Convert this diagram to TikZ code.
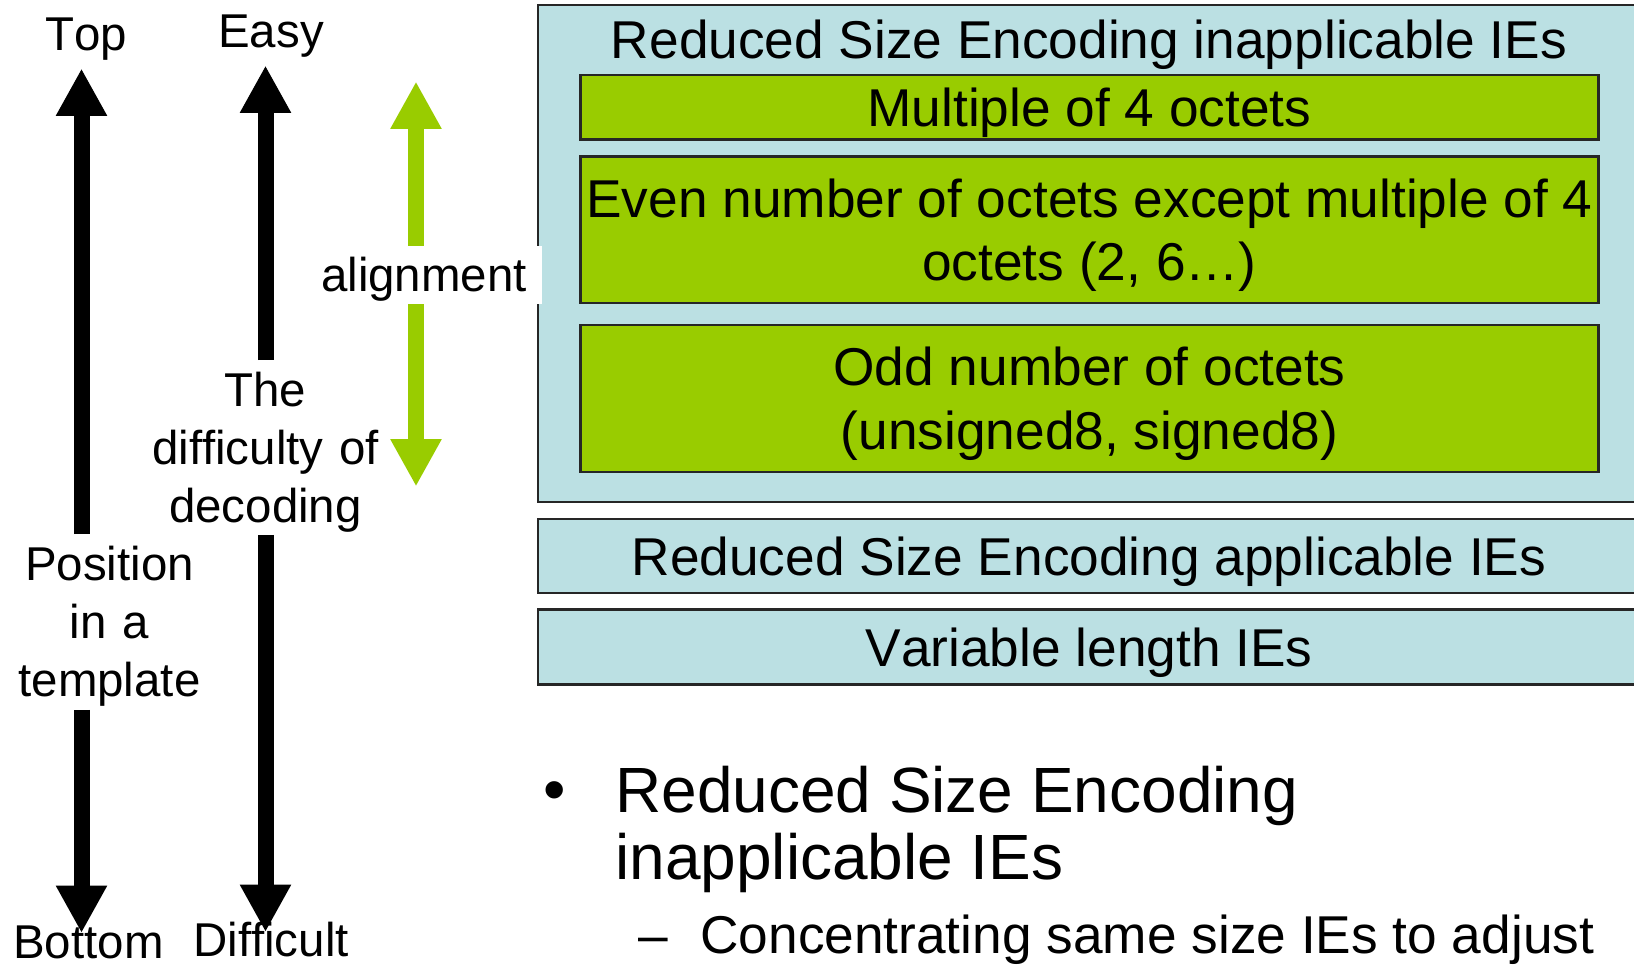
\documentclass[tikz,border=0pt]{standalone}
\usepackage{xcolor}
\usepackage{fontspec}
\setmainfont{Liberation Sans}[Kerning=Off]
\usetikzlibrary{arrows.meta}
\definecolor{ieblue}{HTML}{BBE0E3}
\definecolor{iegreen}{HTML}{99CC00}

\begin{document}
\begin{tikzpicture}[>=Latex,lbl/.style={font=\fontsize{27}{33}\selectfont,align=center,inner sep=0pt,text height=19.33pt,text depth=0pt},lbl3/.style={lbl,text width=5.6cm,text depth=66pt},boxtext/.style={font=\fontsize{30.3}{36.2}\selectfont,align=center,text height=21.7pt,text depth=0pt},box2/.style={text height=57.9pt},outer/.style={draw=black!85,line width=1.2pt,fill=ieblue,inner sep=0pt,boxtext},octet/.style={draw=black!85,line width=1.2pt,fill=iegreen,inner sep=0pt,minimum width=20.36cm,boxtext},bigarrow/.style={line width=0.32cm,-{Triangle[width=0.96cm,length=0.95cm]}},alignarrow/.style={bigarrow,draw=iegreen},bullet/.style={inner sep=0pt,font=\fontsize{36.4}{38.5}\selectfont}]
\useasboundingbox (0,0) rectangle (32.68,-19.32);
\clip (0,0) rectangle (32.68,-19.32);
\node[lbl] (lTop) at (1.73,-0.668) {Top};
\node[lbl] (lEasy) at (5.42,-0.61) {Easy};
\node[lbl3,minimum height=3.5cm] (lPos) at (2.19,-12.44) {Position\\in a\\template};
\node[lbl3,minimum height=3.48cm] (lDiff) at (5.31,-8.95) {The\\difficulty of\\decoding};
\node[lbl] (lBottom) at (1.77,-18.84) {Bottom};
\node[lbl] (lHard) at (5.42,-18.8) {Difficult};
\coordinate (pTop) at (1.63,-1.37);
\coordinate (pBot) at (1.63,-18.66);
\coordinate (dTop) at (5.31,-1.31);
\coordinate (dBot) at (5.31,-18.64);
\coordinate (aTop) at (8.32,-1.63);
\coordinate (aBot) at (8.32,-9.73);
\draw[bigarrow] (pTop |- lPos.north) -- (pTop);
\draw[bigarrow] (pBot |- lPos.south) -- (pBot);
\draw[bigarrow] (lDiff.north) -- (dTop);
\draw[bigarrow] (lDiff.south) -- (dBot);
\node[outer,minimum width=22.04cm,minimum height=9.94cm] (inappl) at (21.78,-5.07) {};
\node[boxtext] (inapplT) at (21.78,-0.79) {Reduced Size Encoding inapplicable IEs};
\node[octet,minimum height=1.29cm] (oct4) at (21.79,-2.145) {Multiple of 4 octets};
\node[octet,box2,minimum height=2.93cm] (octEven) at (21.79,-4.595) {Even number of octets except multiple of 4\\octets (2, 6…)};
\node[octet,box2,minimum height=2.94cm] (octOdd) at (21.79,-7.97) {Odd number of octets\\(unsigned8, signed8)};
\node[outer,minimum width=22.04cm,minimum height=1.48cm] (appl) at (21.78,-11.12) {Reduced Size Encoding applicable IEs};
\node[outer,minimum width=22.04cm,minimum height=1.50cm] (varlen) at (21.78,-12.94) {Variable length IEs};
\node[lbl,fill=white,inner xsep=0.3cm,minimum height=1.15cm] (lAlign) at (8.48,-5.5) {alignment};
\draw[alignarrow] (aTop |- lAlign.north) -- (aTop);
\draw[alignarrow] (aBot |- lAlign.south) -- (aBot);
\node[bullet,anchor=base] (dot1) at (11.1,-16.23) {•};
\node[bullet,anchor=north west,align=left] (rse) at (12.3,-15.31) {Reduced Size Encoding\\inapplicable IEs};
\node[boxtext,inner sep=0pt,anchor=base] (dash1) at (13.07,-19.07) {–};
\node[boxtext,inner sep=0pt,anchor=base west] (conc) at (14.0,-19.07) {Concentrating same size IEs to adjust};
\end{tikzpicture}
\end{document}
